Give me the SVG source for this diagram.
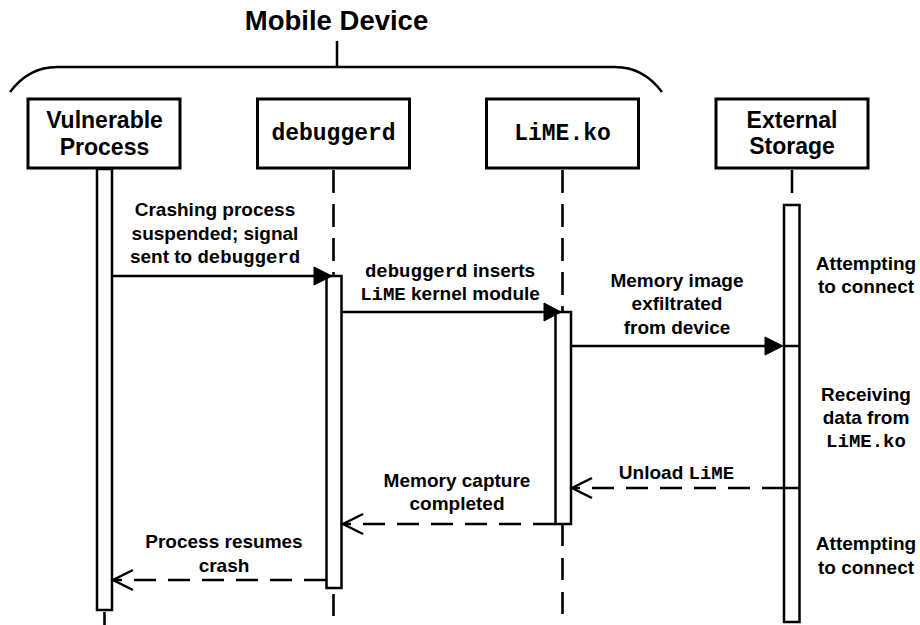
<svg xmlns="http://www.w3.org/2000/svg" width="920" height="625" viewBox="0 0 920 625">
<defs>
<style>
.box{fill:#fff;stroke:#000;stroke-width:3}
.bar{fill:#fff;stroke:#000;stroke-width:2.5}
.life{fill:none;stroke:#000;stroke-width:2.6;stroke-dasharray:23 11}
.life2{fill:none;stroke:#000;stroke-width:2.6;stroke-dasharray:22 12}
.msg{fill:none;stroke:#000;stroke-width:2.5}
.ret{fill:none;stroke:#000;stroke-width:2.5;stroke-dasharray:22 12}
.head{fill:#000;stroke:#000;stroke-width:1;stroke-linejoin:miter}
.open{fill:none;stroke:#000;stroke-width:2.5}
.brace{fill:none;stroke:#000;stroke-width:2.5}
text{font-family:"Liberation Sans",Arial,Helvetica,sans-serif;font-weight:bold;fill:#000;text-anchor:middle}
.t{font-size:19px}
.n{font-size:23px}
.title{font-size:27.5px}
.m{font-family:"Liberation Mono","Courier New",Courier,monospace;font-weight:bold}
</style>
</defs>
<rect width="920" height="625" fill="#fff"/>

<g id="mobile-device">
<text class="title" x="336.5" y="29.5">Mobile Device</text>
<path class="brace" d="M10,92 C22,76 38,67 57,67 L615,67 C634,67 650,76 662,92"/>
<path class="brace" d="M337,41 V67"/>
</g>

<g id="vulnerable-process">
<path class="life2" d="M104.5,610 V625" style="stroke-dashoffset:32"/>
<rect class="box" x="28" y="99" width="152" height="69"/>
<text class="n" x="104.5" y="128">Vulnerable</text>
<text class="n" x="104.5" y="155">Process</text>
<rect class="bar" x="97" y="169" width="15" height="441"/>
</g>

<g id="debuggerd">
<path class="life" d="M333.5,170 V276"/>
<path class="life2" d="M333.5,588 V625" style="stroke-dashoffset:28"/>
<rect class="box" x="257.5" y="99" width="152" height="69"/>
<text class="n m" x="333.5" y="140">debuggerd</text>
<rect class="bar" x="326.5" y="276" width="15" height="312"/>
</g>

<g id="lime-ko">
<path class="life" d="M562.5,170 V312"/>
<path class="life2" d="M562.5,524 V625"/>
<rect class="box" x="486.5" y="99" width="152" height="69"/>
<text class="n m" x="562.5" y="140">LiME.ko</text>
<rect class="bar" x="555.5" y="312" width="15.5" height="212"/>
</g>

<g id="external-storage">
<path class="life" d="M792,170 V205"/>
<rect class="box" x="716" y="99" width="152" height="69"/>
<text class="n" x="792" y="128">External</text>
<text class="n" x="792" y="154">Storage</text>
<rect class="bar" x="784" y="205" width="15.5" height="417"/>
<path class="msg" d="M784,346 H799.5 M784,488 H799.5"/>
<text class="t" x="866" y="270">Attempting</text>
<text class="t" x="866" y="293">to connect</text>
<text class="t" x="866" y="401">Receiving</text>
<text class="t" x="866" y="424">data from</text>
<text class="t m" x="866" y="447">LiME.ko</text>
<text class="t" x="866" y="550">Attempting</text>
<text class="t" x="866" y="574">to connect</text>
</g>

<g id="connectors">
<g id="msg1">
<path class="msg" d="M113,276 H316"/>
<polygon class="head" points="332,276 314,267 314,285"/>
<text class="t" x="215" y="216">Crashing process</text>
<text class="t" x="215" y="239.5">suspended; signal</text>
<text class="t" x="215" y="263">sent to <tspan class="m">debuggerd</tspan></text>
</g>
<g id="msg2">
<path class="msg" d="M342,312 H546"/>
<polygon class="head" points="561,312 544,303 544,321"/>
<text class="t" x="450" y="277"><tspan class="m">debuggerd</tspan> inserts</text>
<text class="t" x="450" y="300"><tspan class="m">LiME</tspan> kernel module</text>
</g>
<g id="msg3">
<path class="msg" d="M571,346 H767"/>
<polygon class="head" points="783,346 765,337 765,355"/>
<text class="t" x="677" y="286.5">Memory image</text>
<text class="t" x="677" y="310">exfiltrated</text>
<text class="t" x="677" y="333.5">from device</text>
</g>
<g id="msg4">
<path class="ret" d="M784,488 H572"/>
<polyline class="open" points="592,478 572,488 592,498"/>
<text class="t" x="676.5" y="479">Unload <tspan class="m">LiME</tspan></text>
</g>
<g id="msg5">
<path class="ret" d="M555,524 H343"/>
<polyline class="open" points="363,514 343,524 363,534"/>
<text class="t" x="457" y="487">Memory capture</text>
<text class="t" x="457" y="510">completed</text>
</g>
<g id="msg6">
<path class="ret" d="M326,580 H113"/>
<polyline class="open" points="133,570 113,580 133,590"/>
<text class="t" x="224" y="548">Process resumes</text>
<text class="t" x="224" y="572">crash</text>
</g>
</g>
</svg>
